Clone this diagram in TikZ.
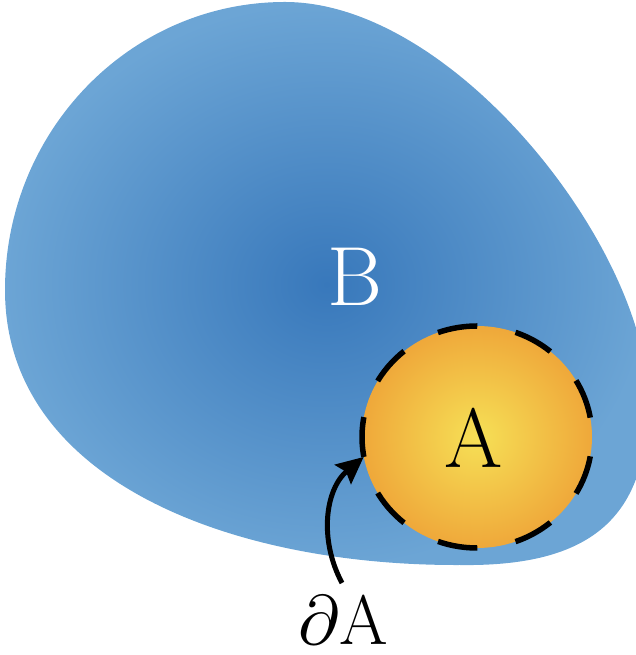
\documentclass[tikz,border=0pt]{standalone}
\DeclareFontFamily{OML}{cmm}{\skewchar\font127 }
\DeclareFontShape{OML}{cmm}{m}{it}{<->cmmi10}{}
\usetikzlibrary{arrows.meta,shapes.geometric}
\definecolor{blobin}{RGB}{56,120,187}
\definecolor{blobout}{RGB}{108,165,213}
\definecolor{ain}{RGB}{246,224,86}
\definecolor{aout}{RGB}{239,168,58}
\begin{document}
\begin{tikzpicture}[x=1pt,y=1pt,
  lbl/.style={inner sep=0pt, anchor=base},
  bigfont/.style={font=\fontsize{84}{90}\selectfont},
  midfont/.style={font=\fontsize{70}{80}\selectfont},
  boundary/.style={line width=5.5pt, dash pattern=on 40pt off 38.9pt, dash phase=59.45pt},
  pointer/.style={line width=5pt, -{Stealth[length=27pt,width=25pt,inset=4pt]}}]
\useasboundingbox (0,0) rectangle (636,655);
\begin{scope}
\clip (0,0) rectangle (636,655);
\shade[inner color=blobin, outer color=blobout]
  (285,653) .. controls (130,653) and (5,524) .. (5,365)
  .. controls (5,175) and (230,89) .. (460,90)
  .. controls (600,88) and (648,145) .. (648,255)
  .. controls (648,405) and (455,653) .. (285,653) -- cycle;
\end{scope}
\node[ellipse, minimum width=230pt, minimum height=222pt, inner sep=0pt] (Acirc) at (477,218) {};
\shade[inner color=ain, outer color=aout] (477,218) ellipse [x radius=115, y radius=111];
\draw[boundary] (477,218) ellipse [x radius=115, y radius=111];
\node[lbl, bigfont, text=white] (B) at (355,349) {B};
\node[lbl, bigfont] (Alabel) at (474,187) {A};
\node[lbl, midfont] (dA) at (343,10) {$\partial$A};
\coordinate (tail) at (342,72);
\draw[pointer] (tail) to[out=118,in=220] (Acirc.190);
\end{tikzpicture}
\end{document}
